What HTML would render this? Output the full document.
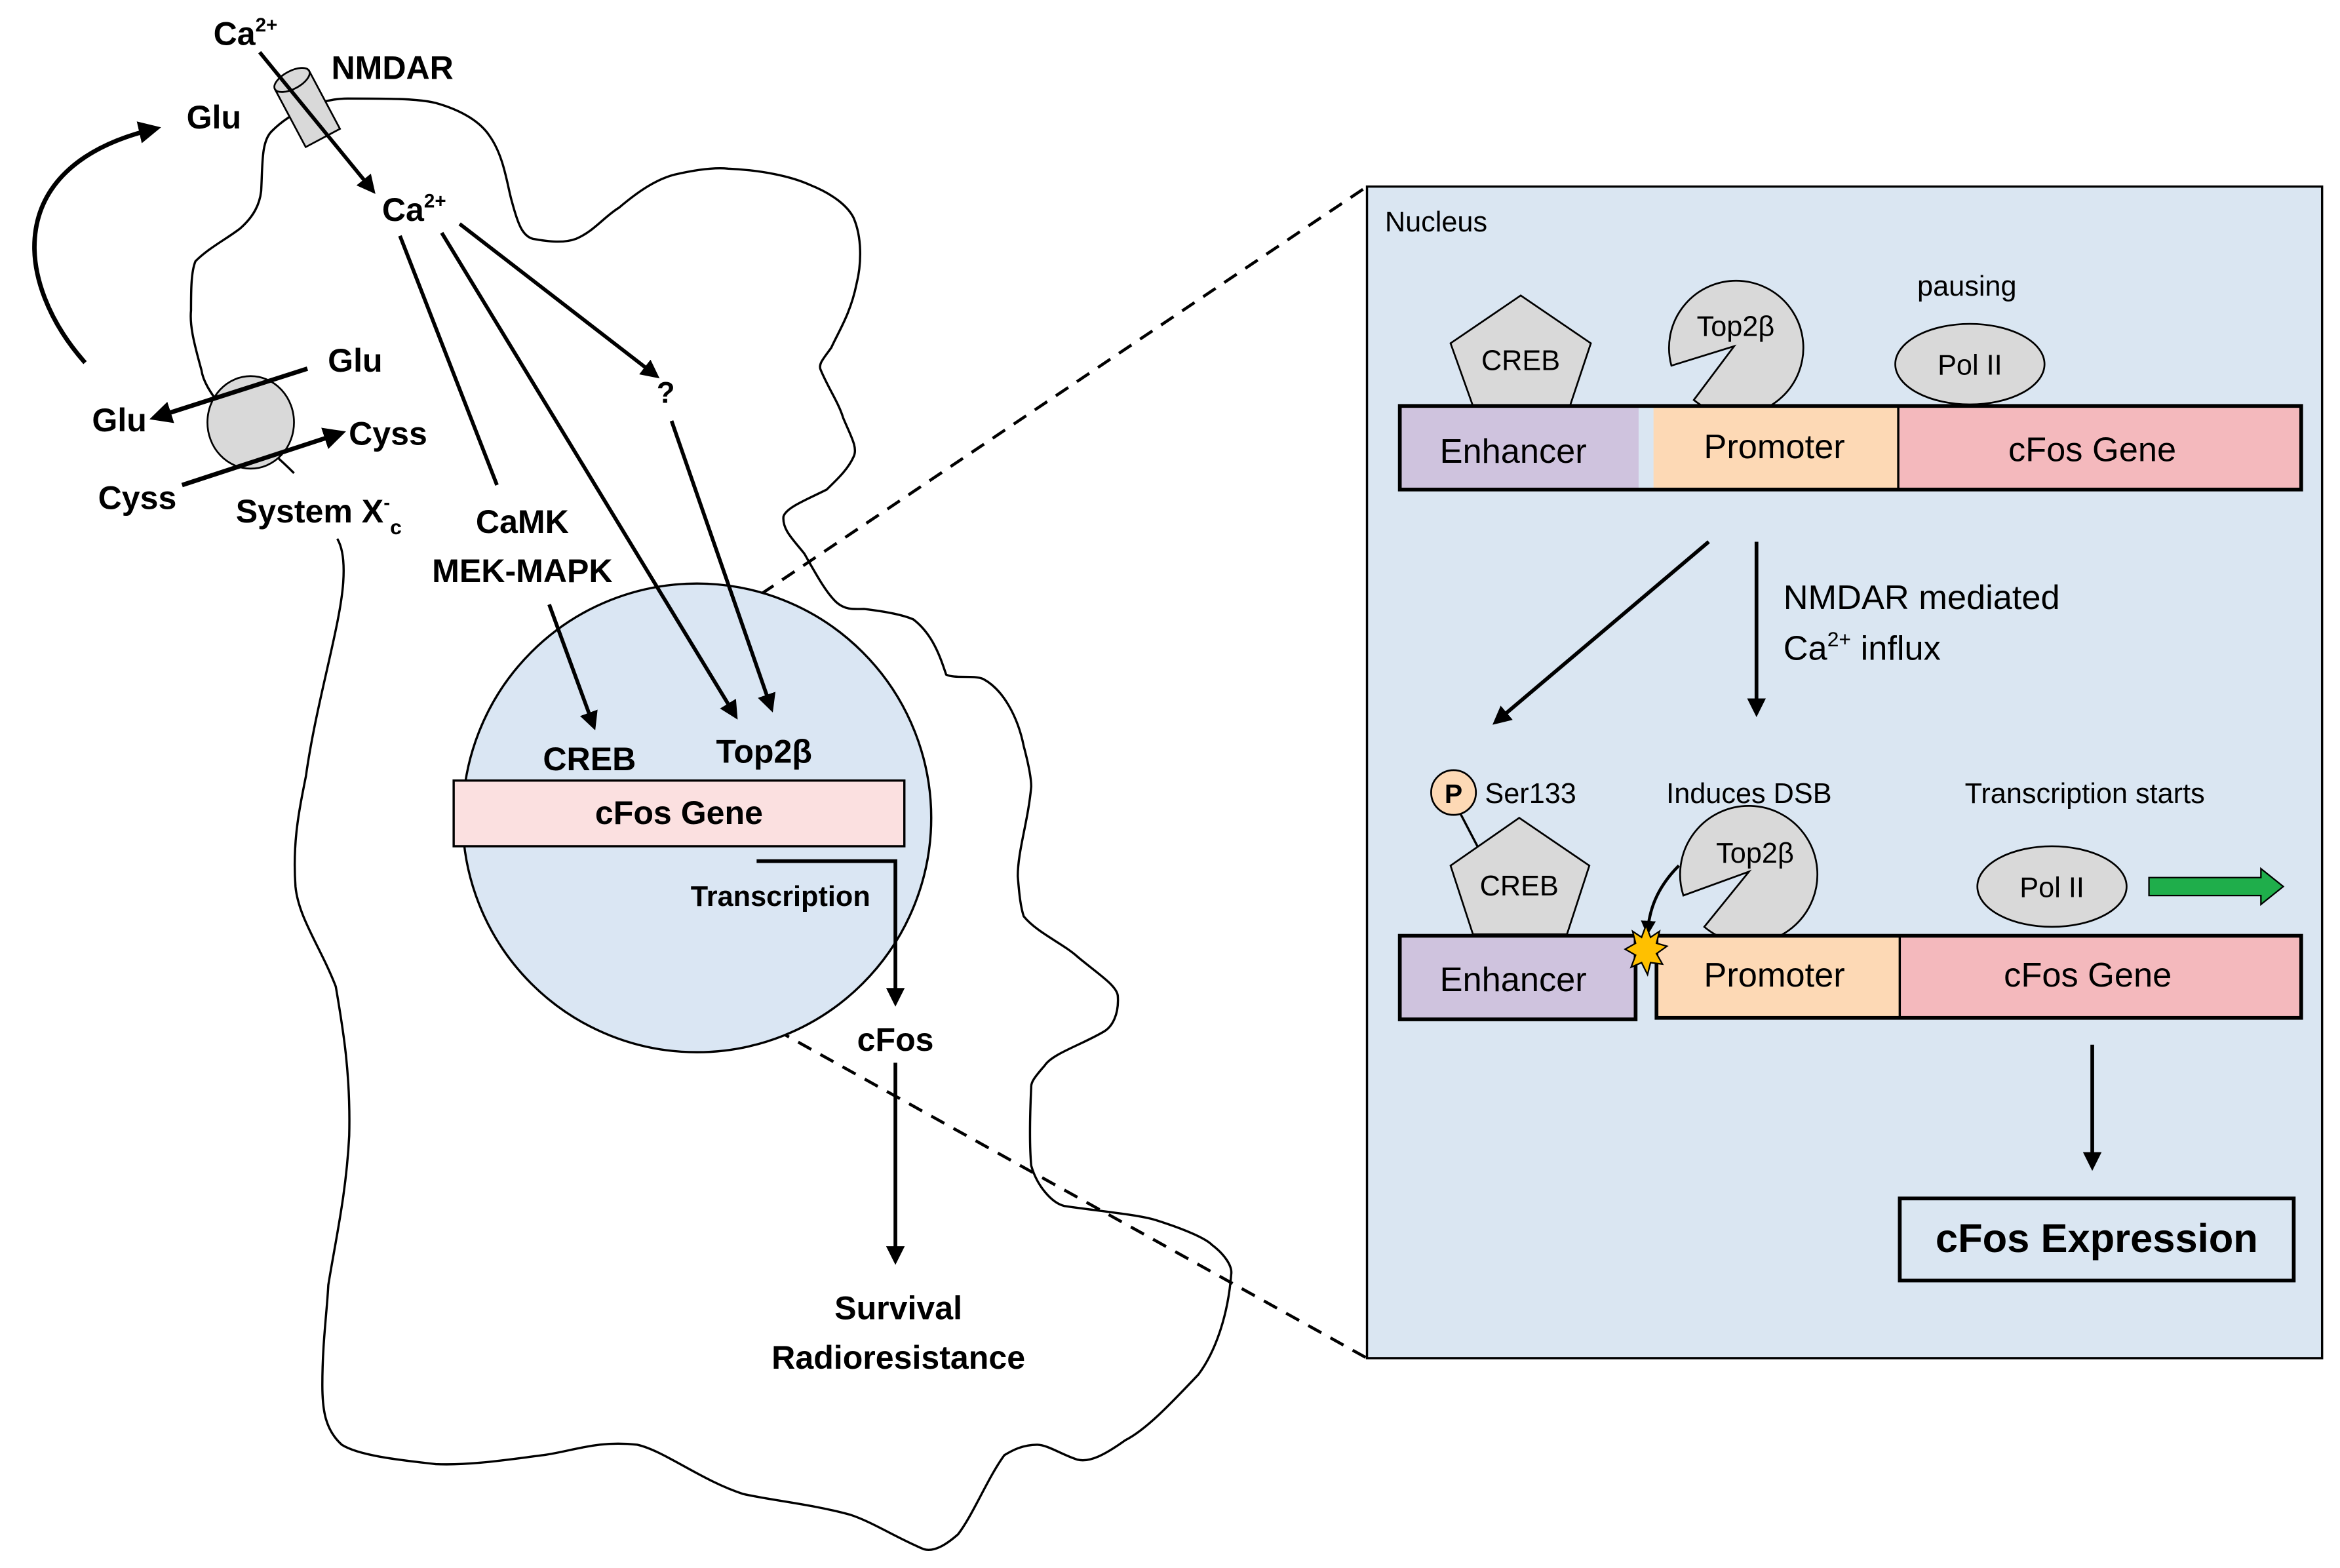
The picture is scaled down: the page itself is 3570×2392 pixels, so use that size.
<!DOCTYPE html>
<html><head><meta charset="utf-8"><style>html,body{margin:0;padding:0;background:#fff}svg{display:block}</style></head><body>
<svg width="3570" height="2392" viewBox="0 0 1568 1050.6" xmlns="http://www.w3.org/2000/svg" font-family="'Liberation Sans', sans-serif">
<defs>
<marker id="ah" viewBox="0 0 10 10" refX="8" refY="5" markerWidth="5" markerHeight="5" orient="auto"><path d="M0,0 L10,5 L0,10 z" fill="#000"/></marker>
</defs>
<rect width="1568" height="1051" fill="#fff"/>
<!-- cell outline -->
<path d="M233,66 C260,66 280,66 292,69 C310,74 322,82 328,91 C338,105 340,125 343,135 C347,150 350,158 357,160 C368,162 378,163 386,160 C398,155 405,145 415,139 C428,128 440,120 452,117 C465,114 478,112 488,113 C510,114 530,118 543,124 C558,130 568,138 572,146 C578,160 577,178 574,190 C570,210 562,222 557,233 C552,240 548,244 550,248 C555,260 562,270 565,280 C570,292 575,300 572,306 C568,315 560,322 554,328 C540,335 527,340 525,346 C524,355 532,362 539,371 C547,385 554,398 561,404 C567,409 573,408 579,408 C595,410 605,412 612,415 C625,425 630,440 634,452 C640,455 652,452 659,455 C672,462 682,480 686,500 C690,515 691,522 691,527 C689,550 682,570 682,587 C683,600 684,608 686,614 C695,625 712,632 722,641 C735,652 748,660 749,667 C750,680 745,688 740,691 C725,700 705,706 700,714 C693,722 691,725 691,728 C690,750 690,770 691,781 C695,795 705,806 713,808 C740,812 765,814 776,818 C795,824 808,830 812,834 C820,840 826,848 825,854 C823,880 815,905 803,921 C785,940 768,958 754,965 C740,975 730,980 722,978 C712,975 702,968 695,968 C685,968 678,972 673,975 C662,990 652,1015 642,1028 C634,1035 626,1040 619,1038 C600,1030 585,1020 570,1015 C545,1008 515,1005 498,1001 C470,992 445,972 427,968 C400,965 385,972 364,975 C340,978 315,982 292,981 C265,978 240,975 229,968 C218,958 216,945 216,928 C216,900 219,880 220,861 C225,830 232,800 234,761 C235,720 230,690 225,661 C215,635 200,615 198,594 C196,565 200,545 205,520 C212,470 228,420 230,390 C231,375 229,366 226,361" fill="none" stroke="#000" stroke-width="1.5"/>
<path d="M197,317 C180,300 160,285 150,275 C140,262 136,255 135,248 C130,230 127,218 128,208 C128,195 128,182 131,175 C140,166 152,160 161,153 C170,145 174,137 175,128 C176,110 175,95 182,88 C195,75 215,66 233,66" fill="none" stroke="#000" stroke-width="1.5"/>
<!-- System Xc -->
<ellipse cx="168" cy="283" rx="29" ry="31" fill="#d9d9d9" stroke="#000" stroke-width="1.2"/>
<line x1="206" y1="247" x2="103" y2="280" stroke="#000" stroke-width="3" marker-end="url(#ah)"/>
<line x1="122" y1="325" x2="229" y2="290" stroke="#000" stroke-width="3" marker-end="url(#ah)"/>
<g font-weight="bold" font-size="22" fill="#000">
<text x="238" y="249" text-anchor="middle">Glu</text>
<text x="80" y="289" text-anchor="middle">Glu</text>
<text x="260" y="298" text-anchor="middle">Cyss</text>
<text x="92" y="341" text-anchor="middle">Cyss</text>
<text x="158" y="350">System X<tspan font-size="13" dy="-9">-</tspan><tspan font-size="14" dy="17">c</tspan></text>
</g>
<!-- NMDAR -->
<g transform="translate(206,73) rotate(-28)">
<rect x="-13" y="-22" width="26" height="44" fill="#d9d9d9" stroke="#000" stroke-width="1.2"/>
<ellipse cx="0" cy="-22" rx="13" ry="6" fill="#d9d9d9" stroke="#000" stroke-width="1.2"/>
</g>
<line x1="174" y1="35" x2="250" y2="128" stroke="#000" stroke-width="2.5" marker-end="url(#ah)"/>
<g font-weight="bold" font-size="22">
<text x="143" y="30">Ca<tspan font-size="13" dy="-9">2+</tspan></text>
<text x="222" y="53">NMDAR</text>
<text x="125" y="86">Glu</text>
<text x="256" y="148">Ca<tspan font-size="13" dy="-9">2+</tspan></text>
<text x="440" y="270" font-size="20">?</text>
<text x="350" y="357" text-anchor="middle">CaMK</text>
<text x="350" y="390" text-anchor="middle">MEK-MAPK</text>
</g>
<path d="M57,243 C10,190 0,110 105,86" fill="none" stroke="#000" stroke-width="3" marker-end="url(#ah)"/>
<!-- signaling lines -->
<line x1="268" y1="158" x2="333" y2="325" stroke="#000" stroke-width="2.5"/>
<line x1="308" y1="150" x2="440" y2="252" stroke="#000" stroke-width="2.5" marker-end="url(#ah)"/>
<!-- dashed -->
<line x1="510" y1="398" x2="916" y2="125" stroke="#000" stroke-width="2" stroke-dasharray="10,7"/>
<line x1="520" y1="690" x2="916" y2="910" stroke="#000" stroke-width="2" stroke-dasharray="10,7"/>
<!-- nucleus -->
<circle cx="467" cy="548" r="157" fill="#dae6f3" stroke="#000" stroke-width="1.5"/>
<line x1="450" y1="282" x2="517" y2="475" stroke="#000" stroke-width="2.5" marker-end="url(#ah)"/>
<line x1="368" y1="405" x2="398" y2="487" stroke="#000" stroke-width="2.5" marker-end="url(#ah)"/>
<line x1="296" y1="156" x2="493" y2="480" stroke="#000" stroke-width="2.5" marker-end="url(#ah)"/>
<rect x="304" y="523" width="302" height="44" fill="#fbe0e0" stroke="#000" stroke-width="1.5"/>
<g font-weight="bold" font-size="22">
<text x="395" y="516" text-anchor="middle">CREB</text>
<text x="512" y="511" text-anchor="middle">Top2β</text>
<text x="455" y="552" text-anchor="middle">cFos Gene</text>
<text x="523" y="607" text-anchor="middle" font-size="19">Transcription</text>
<text x="600" y="704" text-anchor="middle">cFos</text>
<text x="602" y="884" text-anchor="middle">Survival</text>
<text x="602" y="917" text-anchor="middle">Radioresistance</text>
</g>
<path d="M507,577 L600,577 L600,672" fill="none" stroke="#000" stroke-width="2.5" marker-end="url(#ah)"/>
<line x1="600" y1="712" x2="600" y2="845" stroke="#000" stroke-width="2.5" marker-end="url(#ah)"/>
<!-- right panel -->
<rect x="916" y="125" width="640" height="785" fill="#dae6f2" stroke="#000" stroke-width="1.5"/>
<text x="928" y="155" font-size="19">Nucleus</text>
<text x="1318" y="198" font-size="19" text-anchor="middle">pausing</text>
<polygon points="1019,198 1066,230 1052,272 987,272 972,230" fill="#d9d9d9" stroke="#000" stroke-width="1.2"/>
<text x="1019" y="248" font-size="19" text-anchor="middle">CREB</text>
<path d="M1162,232 L1120,245 A45,45 0 1 1 1135,268 Z" fill="#d9d9d9" stroke="#000" stroke-width="1.2"/>
<text x="1163" y="225" font-size="19" text-anchor="middle">Top2β</text>
<ellipse cx="1320" cy="244" rx="50" ry="27" fill="#d9d9d9" stroke="#000" stroke-width="1.2"/>
<text x="1320" y="251" font-size="19" text-anchor="middle">Pol II</text>
<rect x="938" y="272" width="160" height="56" fill="#cfc3de"/>
<rect x="1108" y="272" width="164" height="56" fill="#fdd9b5"/>
<rect x="1272" y="272" width="270" height="56" fill="#f4b9bd"/>
<rect x="938" y="272" width="604" height="56" fill="none" stroke="#000" stroke-width="2.5"/>
<line x1="1272" y1="272" x2="1272" y2="328" stroke="#000" stroke-width="1.5"/>
<g font-size="23" text-anchor="middle">
<text x="1014" y="310">Enhancer</text>
<text x="1189" y="307">Promoter</text>
<text x="1402" y="309">cFos Gene</text>
</g>
<line x1="1145" y1="363" x2="1002" y2="484" stroke="#000" stroke-width="2.5" marker-end="url(#ah)"/>
<line x1="1177" y1="363" x2="1177" y2="478" stroke="#000" stroke-width="2.5" marker-end="url(#ah)"/>
<text x="1195" y="408" font-size="23">NMDAR mediated</text>
<text x="1195" y="442" font-size="23">Ca<tspan font-size="14" dy="-9">2+</tspan><tspan dy="9"> influx</tspan></text>
<!-- lower -->
<line x1="978" y1="544" x2="990" y2="567" stroke="#000" stroke-width="1.5"/>
<circle cx="974" cy="531" r="15" fill="#fdd9b5" stroke="#000" stroke-width="1.2"/>
<text x="974" y="538" font-size="18" font-weight="bold" text-anchor="middle">P</text>
<text x="995" y="538" font-size="19">Ser133</text>
<text x="1172" y="538" font-size="19" text-anchor="middle">Induces DSB</text>
<text x="1397" y="538" font-size="19" text-anchor="middle">Transcription starts</text>
<polygon points="1018,548 1065,580 1050,626 987,626 972,580" fill="#d9d9d9" stroke="#000" stroke-width="1.2"/>
<text x="1018" y="600" font-size="19" text-anchor="middle">CREB</text>
<path d="M1172,584 L1128,600 A46,46 0 1 1 1142,621 Z" fill="#d9d9d9" stroke="#000" stroke-width="1.2"/>
<text x="1176" y="578" font-size="19" text-anchor="middle">Top2β</text>
<path d="M1125,580 C1110,595 1105,610 1104,625" fill="none" stroke="#000" stroke-width="2" marker-end="url(#ah)"/>
<ellipse cx="1375" cy="594" rx="50" ry="27" fill="#d9d9d9" stroke="#000" stroke-width="1.2"/>
<text x="1375" y="601" font-size="19" text-anchor="middle">Pol II</text>
<polygon points="1440,588 1515,588 1515,582 1530,594 1515,606 1515,600 1440,600" fill="#1fae4b" stroke="#000" stroke-width="1"/>
<rect x="938" y="627" width="158" height="56" fill="#cfc3de" stroke="#000" stroke-width="2.5"/>
<rect x="1110" y="627" width="163" height="55" fill="#fdd9b5"/>
<rect x="1273" y="627" width="269" height="55" fill="#f4b9bd"/>
<rect x="1110" y="627" width="432" height="55" fill="none" stroke="#000" stroke-width="2.5"/>
<line x1="1273" y1="627" x2="1273" y2="682" stroke="#000" stroke-width="1.5"/>
<polygon points="1103,620 1106,628 1112,624 1110,632 1117,634 1110,639 1114,646 1106,645 1104,653 1100,645 1093,648 1096,640 1089,636 1096,632 1094,624 1100,628" fill="#ffc000" stroke="#000" stroke-width="1"/>
<g font-size="23" text-anchor="middle">
<text x="1014" y="664">Enhancer</text>
<text x="1189" y="661">Promoter</text>
<text x="1399" y="661">cFos Gene</text>
</g>
<line x1="1402" y1="700" x2="1402" y2="782" stroke="#000" stroke-width="2.5" marker-end="url(#ah)"/>
<rect x="1273" y="803" width="264" height="55" fill="#dae6f2" stroke="#000" stroke-width="2.5"/>
<text x="1405" y="839" font-size="27" font-weight="bold" text-anchor="middle">cFos Expression</text>
</svg>
</body></html>
